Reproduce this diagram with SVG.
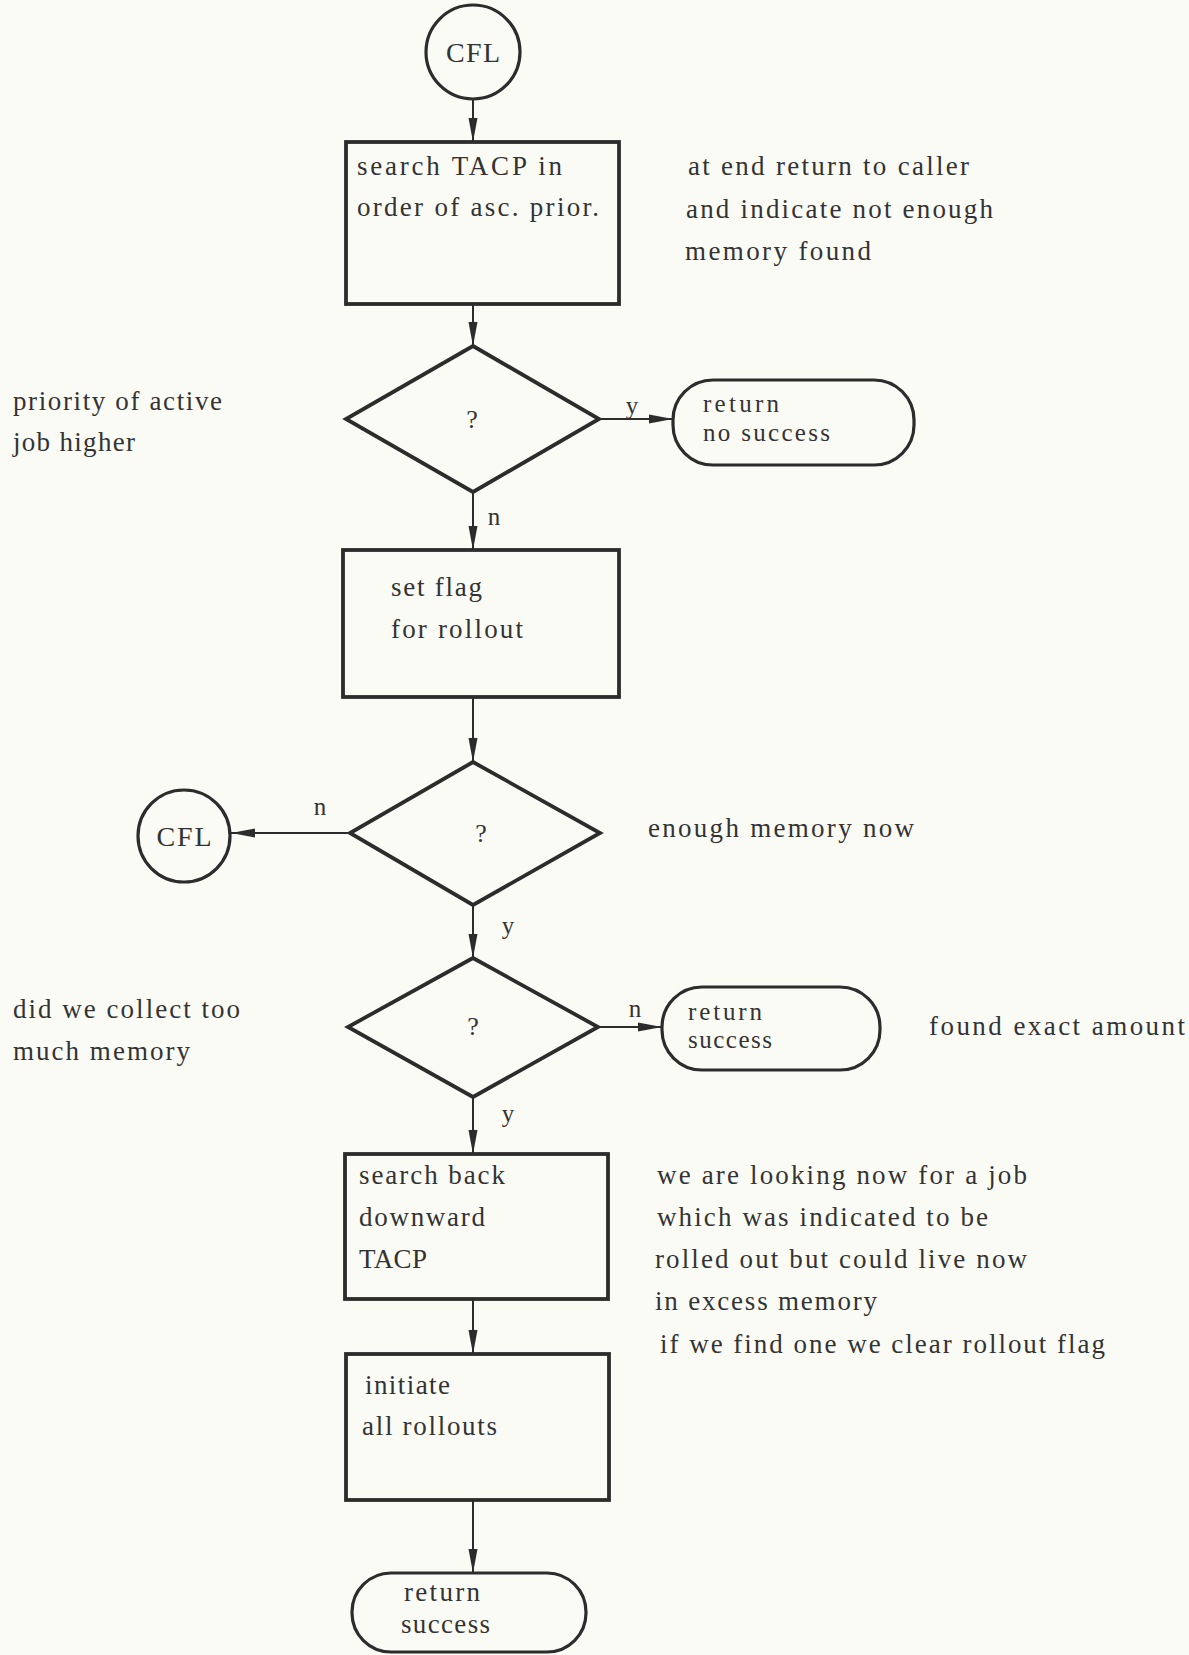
<svg xmlns="http://www.w3.org/2000/svg" width="1189" height="1655" viewBox="0 0 1189 1655">
  <style>
    .bg { fill: #fbfbf6; }
    .box { fill: none; stroke: #2c2c2c; stroke-width: 3.8; }
    .dia { fill: none; stroke: #2c2c2c; stroke-width: 3.8; stroke-linejoin: miter; }
    .term { fill: none; stroke: #2c2c2c; stroke-width: 3.2; }
    .conn { fill: none; stroke: #2c2c2c; stroke-width: 2; marker-end: url(#arrow); }
    text { font-family: "Liberation Serif", "Times New Roman", serif; font-size: 27px; fill: #333333; }
    .mid { text-anchor: middle; }
    .lbl { font-size: 25px; }
    .q { font-size: 26px; }
    .cfl { font-size: 28px; }
    .tight { font-size: 25px; }
  </style>
  <defs>
    <marker id="arrow" markerUnits="userSpaceOnUse" markerWidth="26" markerHeight="12" refX="24" refY="6" orient="auto">
      <path d="M0,1.5 L24,6 L0,10.5 Z" fill="#2c2c2c"/>
    </marker>
  </defs>

  <rect class="bg" x="0" y="0" width="1189" height="1655"/>

  <!-- connectors -->
  <g id="connectors">
    <line class="conn" x1="473" y1="99" x2="473" y2="142"/>
    <line class="conn" x1="473" y1="304" x2="473" y2="346"/>
    <line class="conn" x1="599" y1="419" x2="673" y2="419"/>
    <line class="conn" x1="473" y1="492" x2="473" y2="550"/>
    <line class="conn" x1="473" y1="697" x2="473" y2="762"/>
    <line class="conn" x1="350" y1="833" x2="231" y2="833"/>
    <line class="conn" x1="473" y1="905" x2="473" y2="958"/>
    <line class="conn" x1="598" y1="1027" x2="662" y2="1027"/>
    <line class="conn" x1="473" y1="1097" x2="473" y2="1154"/>
    <line class="conn" x1="473" y1="1299" x2="473" y2="1354"/>
    <line class="conn" x1="473" y1="1500" x2="473" y2="1573"/>
    <text class="lbl mid" x="632" y="414">y</text>
    <text class="lbl mid" x="494" y="525">n</text>
    <text class="lbl mid" x="320" y="815">n</text>
    <text class="lbl mid" x="508" y="934">y</text>
    <text class="lbl mid" x="635" y="1017">n</text>
    <text class="lbl mid" x="508" y="1122">y</text>
  </g>

  <!-- entry connector -->
  <g id="cfl-start">
    <circle class="term" cx="473" cy="52" r="47"/>
    <text class="cfl mid" x="473" y="62" textLength="54" lengthAdjust="spacing">CFL</text>
  </g>

  <g id="search-tacp">
    <rect class="box" x="346" y="142" width="273" height="162"/>
    <text x="357" y="175" textLength="205" lengthAdjust="spacing">search TACP in</text>
    <text x="357" y="216" textLength="242" lengthAdjust="spacing">order of asc. prior.</text>
  </g>

  <g id="note-end">
    <text x="688" y="175" textLength="281" lengthAdjust="spacing">at end return to caller</text>
    <text x="686" y="218" textLength="307" lengthAdjust="spacing">and indicate not enough</text>
    <text x="685" y="260" textLength="186" lengthAdjust="spacing">memory found</text>
  </g>

  <g id="decision-priority">
    <polygon class="dia" points="473,346 599,419 473,492 346,419"/>
    <text class="q mid" x="472" y="428">?</text>
  </g>

  <g id="note-priority">
    <text x="13" y="410" textLength="209" lengthAdjust="spacing">priority of active</text>
    <text x="13" y="451" textLength="122" lengthAdjust="spacing">job higher</text>
  </g>

  <g id="return-no-success">
    <rect class="term" x="673" y="380" width="241" height="85" rx="40" ry="40"/>
    <text class="tight" x="703" y="412" textLength="76" lengthAdjust="spacing">return</text>
    <text class="tight" x="703" y="441" textLength="127" lengthAdjust="spacing">no success</text>
  </g>

  <g id="set-flag">
    <rect class="box" x="343" y="550" width="276" height="147"/>
    <text x="391" y="596" textLength="91" lengthAdjust="spacing">set flag</text>
    <text x="391" y="638" textLength="132" lengthAdjust="spacing">for rollout</text>
  </g>

  <g id="decision-enough">
    <polygon class="dia" points="473,762 600,833 473,905 350,833"/>
    <text class="q mid" x="481" y="842">?</text>
  </g>

  <g id="cfl-loop">
    <circle class="term" cx="184" cy="836" r="46"/>
    <text class="cfl mid" x="184" y="846" textLength="55" lengthAdjust="spacing">CFL</text>
  </g>

  <g id="note-enough">
    <text x="648" y="837" textLength="266" lengthAdjust="spacing">enough memory now</text>
  </g>

  <g id="decision-too-much">
    <polygon class="dia" points="473,958 598,1027 473,1097 348,1027"/>
    <text class="q mid" x="473" y="1035">?</text>
  </g>

  <g id="note-too-much">
    <text x="13" y="1018" textLength="227" lengthAdjust="spacing">did we collect too</text>
    <text x="13" y="1060" textLength="177" lengthAdjust="spacing">much memory</text>
  </g>

  <g id="return-success-exact">
    <rect class="term" x="662" y="987" width="218" height="83" rx="40" ry="40"/>
    <text class="tight" x="688" y="1020" textLength="74" lengthAdjust="spacing">return</text>
    <text class="tight" x="688" y="1048" textLength="84" lengthAdjust="spacing">success</text>
  </g>

  <g id="note-exact">
    <text x="929" y="1035" textLength="256" lengthAdjust="spacing">found exact amount</text>
  </g>

  <g id="search-back">
    <rect class="box" x="345" y="1154" width="263" height="145"/>
    <text x="359" y="1184" textLength="146" lengthAdjust="spacing">search back</text>
    <text x="359" y="1226" textLength="126" lengthAdjust="spacing">downward</text>
    <text x="359" y="1268" textLength="68" lengthAdjust="spacing">TACP</text>
  </g>

  <g id="note-search-back">
    <text x="657" y="1184" textLength="370" lengthAdjust="spacing">we are looking now for a job</text>
    <text x="657" y="1226" textLength="331" lengthAdjust="spacing">which was indicated to be</text>
    <text x="655" y="1268" textLength="372" lengthAdjust="spacing">rolled out but could live now</text>
    <text x="655" y="1310" textLength="222" lengthAdjust="spacing">in excess memory</text>
    <text x="660" y="1353" textLength="445" lengthAdjust="spacing">if we find one we clear rollout flag</text>
  </g>

  <g id="initiate-rollouts">
    <rect class="box" x="346" y="1354" width="263" height="146"/>
    <text x="365" y="1394" textLength="85" lengthAdjust="spacing">initiate</text>
    <text x="362" y="1435" textLength="135" lengthAdjust="spacing">all rollouts</text>
  </g>

  <g id="return-success-final">
    <rect class="term" x="352" y="1573" width="234" height="79" rx="39" ry="39"/>
    <text x="404" y="1601" textLength="76" lengthAdjust="spacing">return</text>
    <text x="401" y="1633" textLength="89" lengthAdjust="spacing">success</text>
  </g>
</svg>
